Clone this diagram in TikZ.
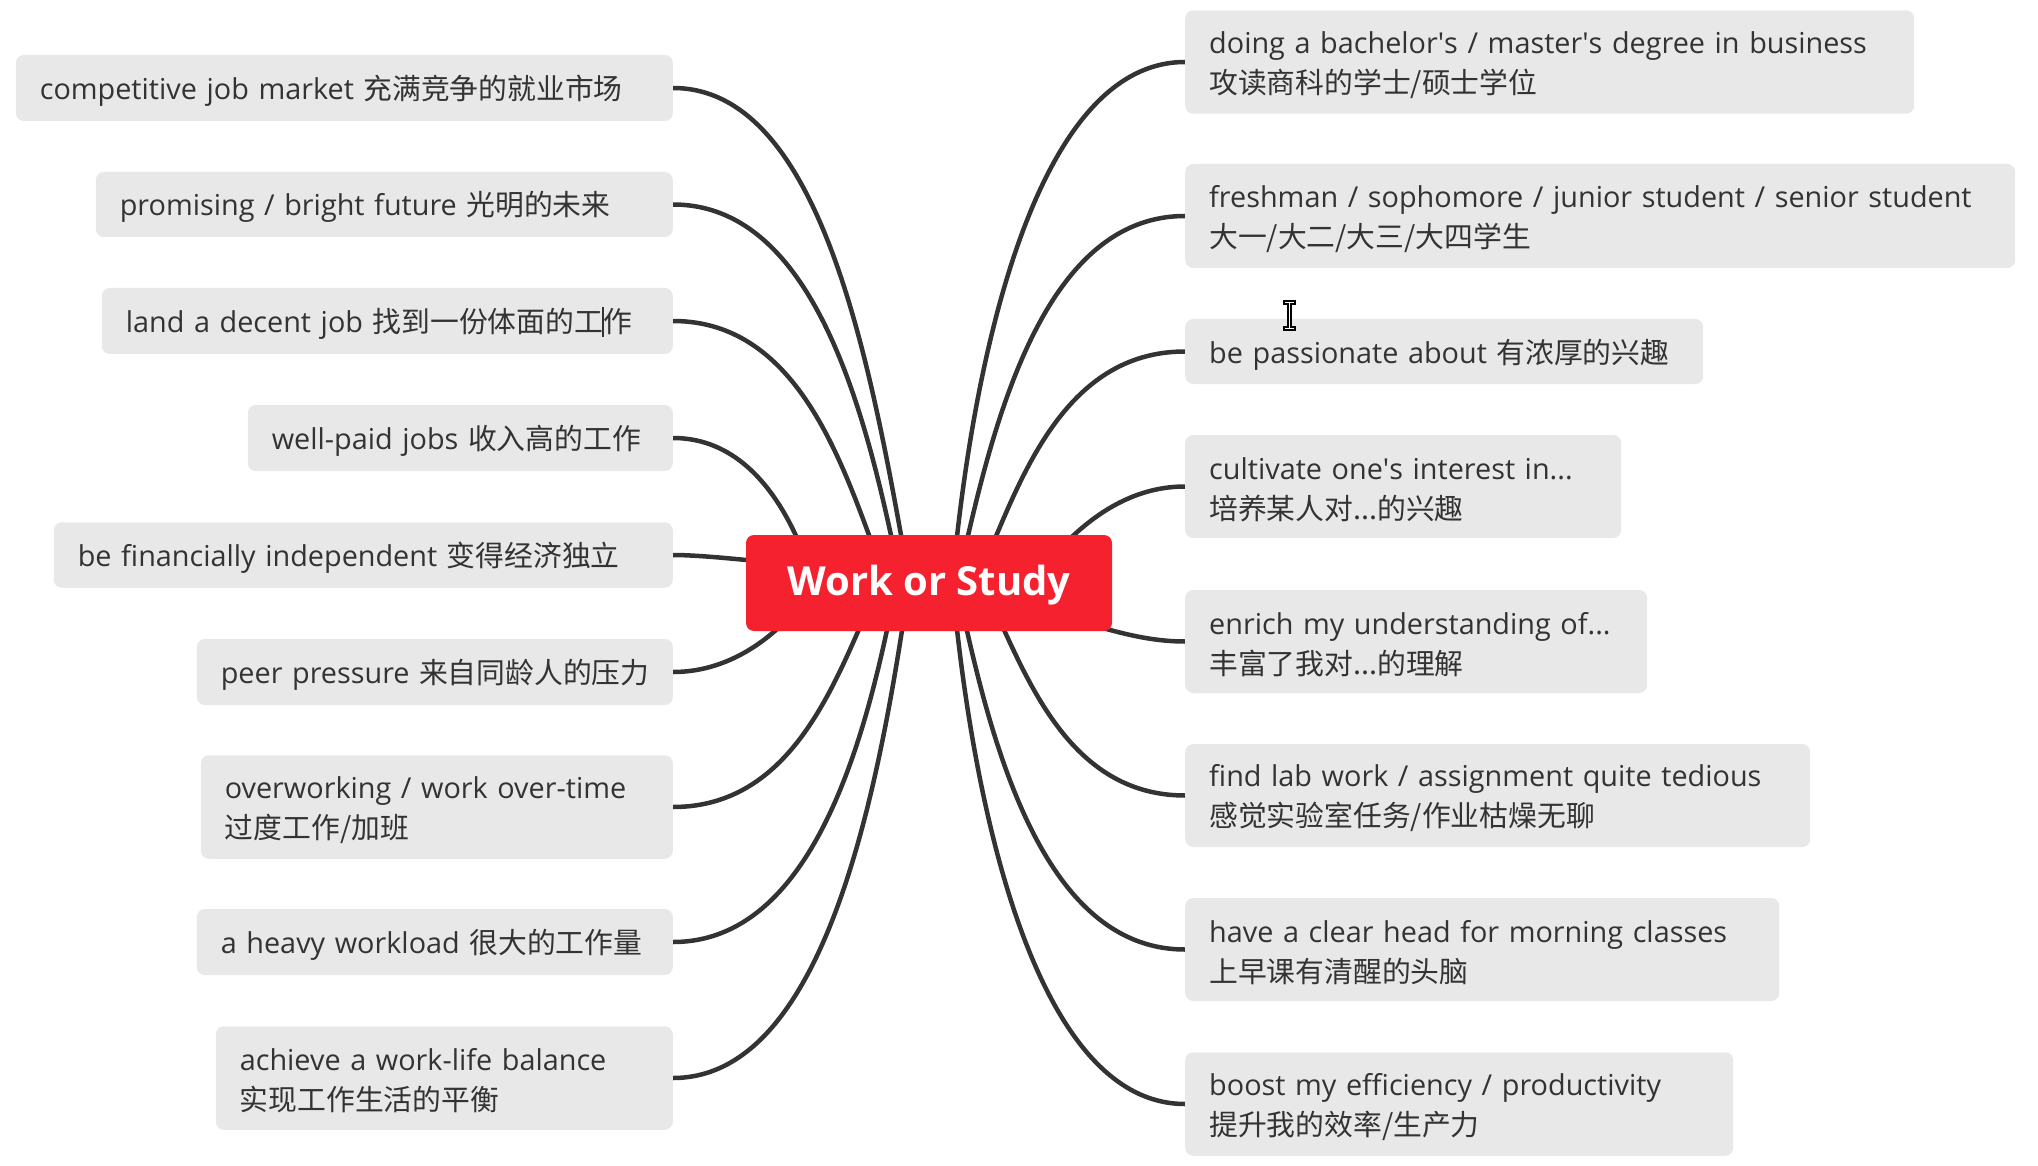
\documentclass[tikz,border=0pt]{standalone}
\usepackage{fontspec}
\setmainfont{Open Sans}
\newfontfamily\cjk{Noto Sans CJK SC}
\usetikzlibrary{calc}
\definecolor{boxgray}{HTML}{E8E8E8}
\definecolor{ink}{HTML}{333333}
\definecolor{rootred}{HTML}{F5212E}
\newcommand\zh[1]{{\cjk #1}}
\newcommand\caretmark{\makebox[0pt]{\color{ink}\rule[-0.14em]{1.3pt}{1.04em}}}
\newcommand\sstrut{\rule[-7.5pt]{0pt}{38pt}}
\newcommand\tstrut{\rule{0pt}{28pt}}
\newcommand\apos{\textquotesingle}
\pgfdeclarelayer{paper}
\pgfdeclarelayer{bg}
\pgfsetlayers{paper,bg,main}
\begin{document}
\begin{tikzpicture}[x=1pt,y=-1pt,
  item/.style={rectangle, rounded corners=8pt, fill=boxgray, text=ink,
    inner xsep=24pt, inner ysep=0pt, align=left,
    font=\fontsize{28.8pt}{40pt}\selectfont},
  litem/.style={item, anchor=east},
  ritem/.style={item, anchor=west},
  branch/.style={draw=ink, line width=4.5pt},
  rootbox/.style={rectangle, rounded corners=8pt, fill=rootred, text=white,
    inner sep=0pt, minimum width=366pt, minimum height=96pt,
    font=\fontsize{40pt}{48pt}\selectfont\bfseries}
]
\useasboundingbox (0,0) rectangle (2038,1166);
\begin{pgfonlayer}{paper}
\fill[white] (0,0) rectangle (2038,1166);
\end{pgfonlayer}

% ---------- left items ----------
\node[litem, text width=609pt, minimum height=66pt] (b1) at (673,88)
  {\mbox{\sstrut competitive job market \zh{充满竞争的就业市场}}};
\node[litem, text width=529pt, minimum height=65pt] (b2) at (673,204.5)
  {\mbox{\sstrut promising / bright future \zh{光明的未来}}};
\node[litem, text width=523pt, minimum height=66pt] (b3) at (673,321)
  {\mbox{\sstrut land a decent job \zh{找到一份体面的工\caretmark 作}}};
\node[litem, text width=377pt, minimum height=66pt] (b4) at (673,438)
  {\mbox{\sstrut well-paid jobs \zh{收入高的工作}}};
\node[litem, text width=571pt, minimum height=65.5pt] (b5) at (673,555)
  {\mbox{\sstrut be financially independent \zh{变得经济独立}}};
\node[litem, text width=428pt, minimum height=66pt] (b6) at (673,672)
  {\mbox{\sstrut peer pressure \zh{来自同龄人的压力}}};
\node[litem, text width=424pt, minimum height=103.5pt] (b7) at (673,807)
  {\mbox{\tstrut overworking / work over-time}\\\mbox{\zh{过度工作/加班}}};
\node[litem, text width=428pt, minimum height=66pt] (b8) at (673,942)
  {\mbox{\sstrut a heavy workload \zh{很大的工作量}}};
\node[litem, text width=409pt, minimum height=103.5pt] (b9) at (673,1078)
  {\mbox{\tstrut achieve a work-life balance}\\\mbox{\zh{实现工作生活的平衡}}};

% ---------- right items ----------
\node[ritem, text width=681pt, minimum height=103.4pt] (r1) at (1185,62)
  {\mbox{\tstrut doing a bachelor\apos s / master\apos s degree in business}\\\mbox{\zh{攻读商科的学士/硕士学位}}};
\node[ritem, text width=782pt, minimum height=104pt] (r2) at (1185,216)
  {\mbox{\tstrut freshman / sophomore / junior student / senior student}\\\mbox{\zh{大一/大二/大三/大四学生}}};
\node[ritem, text width=470pt, minimum height=65pt] (r3) at (1185,351.5)
  {\mbox{\sstrut be passionate about \zh{有浓厚的兴趣}}};
\node[ritem, text width=388pt, minimum height=103pt] (r4) at (1185,486.5)
  {\mbox{\tstrut cultivate one\apos s interest in...}\\\mbox{\zh{培养某人对...的兴趣}}};
\node[ritem, text width=414pt, minimum height=103pt] (r5) at (1185,641.5)
  {\mbox{\tstrut enrich my understanding of...}\\\mbox{\zh{丰富了我对...的理解}}};
\node[ritem, text width=577pt, minimum height=103pt] (r6) at (1185,795.5)
  {\mbox{\tstrut find lab work / assignment quite tedious}\\\mbox{\zh{感觉实验室任务/作业枯燥无聊}}};
\node[ritem, text width=546pt, minimum height=103pt] (r7) at (1185,949.5)
  {\mbox{\tstrut have a clear head for morning classes}\\\mbox{\zh{上早课有清醒的头脑}}};
\node[ritem, text width=500pt, minimum height=103.5pt] (r8) at (1185,1104)
  {\mbox{\tstrut boost my efficiency / productivity}\\\mbox{\zh{提升我的效率/生产力}}};

% ---------- root ----------
\node[rootbox] (root) at (929,583) {\rule{0pt}{34pt}Work or Study};

% ---------- connectors ----------
\begin{pgfonlayer}{bg}
\coordinate (eb1) at (906.4,565);
\coordinate (eb2) at (897.3,565);
\coordinate (eb3) at (880,565);
\coordinate (eb4) at (808,565);
\coordinate (eb5) at (776,563);
\coordinate (eb6) at (803,601);
\coordinate (eb7) at (871.5,601);
\coordinate (eb8) at (893,601);
\coordinate (eb9) at (906.5,601);
\coordinate (er1) at (954,565);
\coordinate (er2) at (961.4,565);
\coordinate (er3) at (983.8,565);
\coordinate (er4) at (1044.5,565);
\coordinate (er5) at (1075,620);
\coordinate (er6) at (990.6,601);
\coordinate (er7) at (960.4,601);
\coordinate (er8) at (954,601);

\draw[branch] (b1.east) .. controls ($(b1.east)+(148,0)$) and ($(eb1)+(-36,-201)$) .. (eb1);
\draw[branch] (b2.east) .. controls ($(b2.east)+(142,0)$) and ($(eb2)+(-31,-149)$) .. (eb2);
\draw[branch] (b3.east) .. controls ($(b3.east)+(127,0)$) and ($(eb3)+(-36,-96)$) .. (eb3);
\draw[branch] (b4.east) .. controls ($(b4.east)+(81,0)$) and ($(eb4)+(-16,-44)$) .. (eb4);
\draw[branch] (b5.east) .. controls ($(b5.east)+(27,0)$) and ($(eb5)+(-30,-3)$) .. (eb5);
\draw[branch] (b6.east) .. controls ($(b6.east)+(70,0)$) and ($(eb6)+(-14,18.5)$) .. (eb6);
\draw[branch] (b7.east) .. controls ($(b7.east)+(120,0)$) and ($(eb7)+(-36,79)$) .. (eb7);
\draw[branch] (b8.east) .. controls ($(b8.east)+(139,0)$) and ($(eb8)+(-28,140)$) .. (eb8);
\draw[branch] (b9.east) .. controls ($(b9.east)+(149,0)$) and ($(eb9)+(-30,201)$) .. (eb9);

\draw[branch] (r1.west) .. controls ($(r1.west)+(-148,0)$) and ($(er1)+(21,-213)$) .. (er1);
\draw[branch] (r2.west) .. controls ($(r2.west)+(-141,0)$) and ($(er2)+(32,-144)$) .. (er2);
\draw[branch] (r3.west) .. controls ($(r3.west)+(-122,0)$) and ($(er3)+(36,-83)$) .. (er3);
\draw[branch] (r4.west) .. controls ($(r4.west)+(-73,0)$) and ($(er4)+(21,-22)$) .. (er4);
\draw[branch] (r5.west) .. controls ($(r5.west)+(-40,0)$) and ($(er5)+(35,10)$) .. (er5);
\draw[branch] (r6.west) .. controls ($(r6.west)+(-117,0)$) and ($(er6)+(35.5,74)$) .. (er6);
\draw[branch] (r7.west) .. controls ($(r7.west)+(-142,0)$) and ($(er7)+(31,143)$) .. (er7);
\draw[branch] (r8.west) .. controls ($(r8.west)+(-148,0)$) and ($(er8)+(21,213)$) .. (er8);
\end{pgfonlayer}

% ---------- mouse pointer (I-beam) ----------
\draw[black, fill=white, line width=1.3pt]
  (1284,301) -- (1295,301) -- (1295,304) -- (1291,304) -- (1291,327)
  -- (1295,327) -- (1295,330) -- (1284,330) -- (1284,327) -- (1288,327)
  -- (1288,304) -- (1284,304) -- cycle;
\end{tikzpicture}
\end{document}
